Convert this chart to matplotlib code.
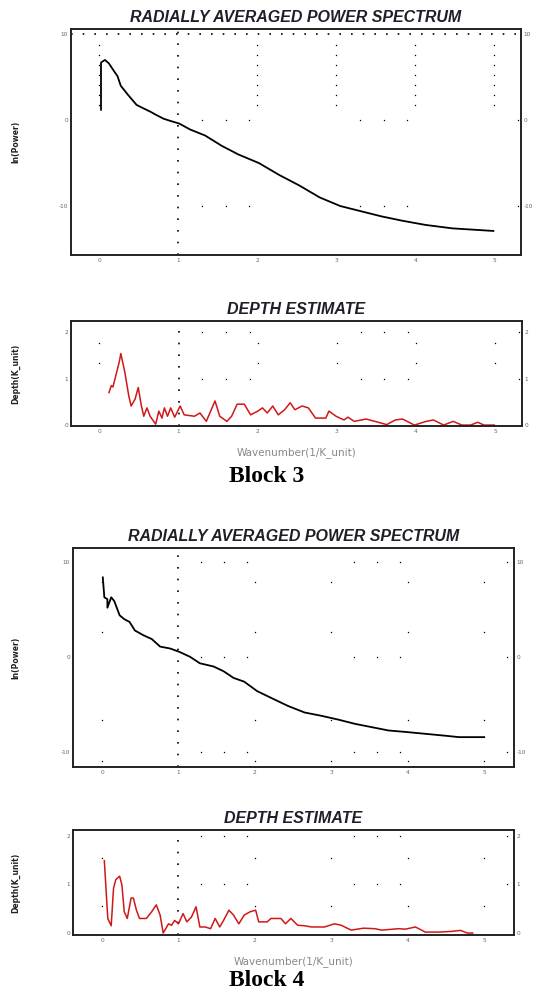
import numpy as np
import matplotlib
matplotlib.use("Agg")
import matplotlib.pyplot as plt

plt.rcParams["axes.unicode_minus"] = False

# ---- data ----
# Block 3, radially averaged power spectrum
b3_k = [0.02, 0.02, 0.07, 0.12, 0.17, 0.23, 0.27, 0.36, 0.47, 0.55, 0.64, 0.72, 0.81,
        0.90, 1.01, 1.15, 1.34, 1.55, 1.76, 2.02, 2.28, 2.53, 2.79, 3.05, 3.31, 3.57,
        3.83, 4.13, 4.47, 4.99]
b3_lnp = [1.2, 6.7, 7.0, 6.6, 5.9, 5.1, 4.0, 2.96, 1.77, 1.4, 1.0, 0.6, 0.17,
          -0.1, -0.4, -1.1, -1.8, -3.0, -4.0, -5.0, -6.4, -7.6, -9.0, -10.0, -10.6, -11.2,
          -11.7, -12.2, -12.6, -12.9]

# Block 3, depth estimate
b3_dk = [0.12, 0.15, 0.17, 0.25, 0.27, 0.32, 0.37, 0.40, 0.45, 0.49, 0.53, 0.56, 0.60,
         0.64, 0.71, 0.75, 0.79, 0.82, 0.86, 0.90, 0.95, 1.02, 1.07, 1.20, 1.27, 1.35,
         1.46, 1.52, 1.61, 1.67, 1.74, 1.83, 1.91, 2.00, 2.06, 2.12, 2.19, 2.26, 2.34,
         2.41, 2.47, 2.56, 2.64, 2.73, 2.86, 2.90, 2.99, 3.09, 3.14, 3.22, 3.37, 3.48,
         3.63, 3.74, 3.83, 3.98, 4.13, 4.22, 4.35, 4.47, 4.58, 4.69, 4.78, 4.86, 4.99]
b3_depth = [0.70, 0.85, 0.82, 1.36, 1.54, 1.14, 0.63, 0.41, 0.56, 0.81, 0.41, 0.19, 0.37,
            0.19, 0.02, 0.30, 0.15, 0.37, 0.19, 0.37, 0.17, 0.41, 0.22, 0.19, 0.26, 0.08,
            0.52, 0.19, 0.08, 0.19, 0.45, 0.45, 0.22, 0.30, 0.37, 0.26, 0.41, 0.22, 0.33,
            0.48, 0.33, 0.41, 0.37, 0.15, 0.15, 0.30, 0.19, 0.11, 0.17, 0.08, 0.13, 0.08,
            0.01, 0.11, 0.13, 0.0, 0.08, 0.11, 0.0, 0.08, 0.0, 0.0, 0.06, 0.0, 0.0]

# Block 4, radially averaged power spectrum
b4_k = [0.01, 0.03, 0.07, 0.07, 0.12, 0.16, 0.23, 0.29, 0.36, 0.43, 0.54, 0.65, 0.76,
        0.89, 1.01, 1.15, 1.28, 1.46, 1.59, 1.72, 1.86, 2.03, 2.21, 2.43, 2.65, 2.87,
        3.09, 3.31, 3.53, 3.75, 3.97, 4.23, 4.49, 4.67, 5.0]
b4_lnp = [8.4, 6.3, 6.1, 5.2, 6.3, 5.9, 4.4, 4.0, 3.7, 2.8, 2.3, 1.9, 1.1,
          0.9, 0.55, 0.03, -0.66, -1.0, -1.5, -2.2, -2.6, -3.6, -4.3, -5.15, -5.85, -6.2,
          -6.6, -7.05, -7.4, -7.75, -7.9, -8.1, -8.3, -8.45, -8.45]

# Block 4, depth estimate
b4_dk = [0.03, 0.075, 0.12, 0.15, 0.18, 0.23, 0.26, 0.29, 0.33, 0.38, 0.41, 0.45, 0.49,
         0.58, 0.65, 0.71, 0.76, 0.80, 0.87, 0.91, 0.95, 1.00, 1.06, 1.11, 1.17, 1.23,
         1.28, 1.35, 1.42, 1.48, 1.54, 1.59, 1.66, 1.72, 1.79, 1.86, 1.94, 2.01, 2.05,
         2.16, 2.21, 2.34, 2.40, 2.47, 2.56, 2.65, 2.74, 2.91, 3.04, 3.13, 3.26, 3.42,
         3.57, 3.66, 3.88, 3.97, 4.10, 4.23, 4.41, 4.58, 4.69, 4.78, 4.85]
b4_depth = [1.49, 0.30, 0.15, 0.92, 1.10, 1.17, 0.99, 0.44, 0.30, 0.72, 0.72, 0.47, 0.30,
            0.30, 0.44, 0.58, 0.37, 0.0, 0.19, 0.16, 0.26, 0.19, 0.40, 0.23, 0.33, 0.54,
            0.125, 0.125, 0.09, 0.30, 0.125, 0.26, 0.47, 0.37, 0.19, 0.37, 0.44, 0.47, 0.23,
            0.23, 0.30, 0.30, 0.19, 0.30, 0.16, 0.15, 0.125, 0.125, 0.19, 0.16, 0.06, 0.10,
            0.09, 0.06, 0.09, 0.08, 0.125, 0.02, 0.02, 0.035, 0.055, 0.0, 0.0]

x_ticks = [0, 1, 2, 3, 4, 5]
power_yticks = [-10, 0, 10]
depth_yticks = [0, 1, 2]

W, H = 534, 994
fig = plt.figure(figsize=(W / 100, H / 100), dpi=100)


def box(l, t, r, b):
    return [l / W, 1 - b / H, (r - l) / W, (b - t) / H]


def style(ax, title, ylim, yticks, xlim):
    ax.set_xlim(*xlim)
    ax.set_ylim(*ylim)
    ax.set_xticks(x_ticks)
    ax.set_yticks(yticks)
    ax.tick_params(length=0, labelsize=4.2, labelcolor="#666666", pad=2,
                   labelright=True, right=True)
    for s in ax.spines.values():
        s.set_linewidth(1.4)
        s.set_color("#222222")
    ax.set_title(title, fontsize=11.5, fontweight="bold", style="italic",
                 family="Liberation Sans", color="#1f1f2a", pad=5)


def dots(ax, cols_y, rows_y, dense_top=None):
    # scattered dot grid drawn by the original software
    ax.axvline(1, ls=(0, (1, 6)), lw=1.2, color="k",
               ymax=1 if dense_top is None else dense_top)
    for xc in [0, 2, 3, 4, 5]:
        ax.plot([xc] * len(cols_y), cols_y, ls="none", marker="s", ms=0.9,
                mew=0, color="k")
    for yr in rows_y:
        xs = [1.3, 1.6, 1.9, 3.3, 3.6, 3.9, 5.3]
        ax.plot(xs, [yr] * len(xs), ls="none", marker="s", ms=0.9, mew=0, color="k")


# Block 3 power spectrum
ax1 = fig.add_axes(box(71, 29, 521, 255))
style(ax1, "RADIALLY AVERAGED POWER SPECTRUM", (-15.7, 10.6), power_yticks, (-0.36, 5.34))
dots(ax1, list(np.linspace(8.7, 1.8, 7)), [0, -10])
ax1.axhline(10, ls=(0, (1, 6)), lw=1.2, color="k")
ax1.plot(b3_k, b3_lnp, color="black", lw=1.3)

# Block 3 depth
ax2 = fig.add_axes(box(71, 321, 522, 426))
style(ax2, "DEPTH ESTIMATE", (-0.02, 2.24), depth_yticks, (-0.36, 5.34))
dots(ax2, [1.76, 1.34], [2, 1])
ax2.plot(b3_dk, b3_depth, color="#d01818", lw=1.1)

# Block 4 power spectrum
ax3 = fig.add_axes(box(73, 548, 514, 767))
style(ax3, "RADIALLY AVERAGED POWER SPECTRUM", (-11.6, 11.5), power_yticks, (-0.38, 5.39))
dots(ax3, [7.9, 2.6, -6.6, -11.0], [10, 0, -10])
ax3.plot(b4_k, b4_lnp, color="black", lw=1.3)

# Block 4 depth
ax4 = fig.add_axes(box(73, 830, 514, 935))
style(ax4, "DEPTH ESTIMATE", (-0.04, 2.12), depth_yticks, (-0.38, 5.39))
dots(ax4, [1.55, 0.55], [2, 1], dense_top=0.95)
ax4.plot(b4_dk, b4_depth, color="#d01818", lw=1.1)

# axis labels placed like the original export
for ax, lab in [(ax1, "ln(Power)"), (ax2, "Depth(K_unit)"),
                (ax3, "ln(Power)"), (ax4, "Depth(K_unit)")]:
    p = ax.get_position()
    fig.text(16 / W, p.y0 + p.height / 2, lab, rotation=90, fontsize=5.5,
             fontweight="bold", ha="center", va="center", color="#222222")

for ax in (ax2, ax4):
    p = ax.get_position()
    fig.text(p.x0 + p.width / 2, p.y0 - 27 / H, "Wavenumber(1/K_unit)", fontsize=7.5,
             ha="center", va="center", color="#888888")

fig.text(0.5, 1 - 477 / H, "Block 3", fontsize=17, fontweight="bold",
         family="Liberation Serif", ha="center", va="center")
fig.text(0.5, 1 - 981 / H, "Block 4", fontsize=17, fontweight="bold",
         family="Liberation Serif", ha="center", va="center")

fig.savefig("out.png", dpi=100)
